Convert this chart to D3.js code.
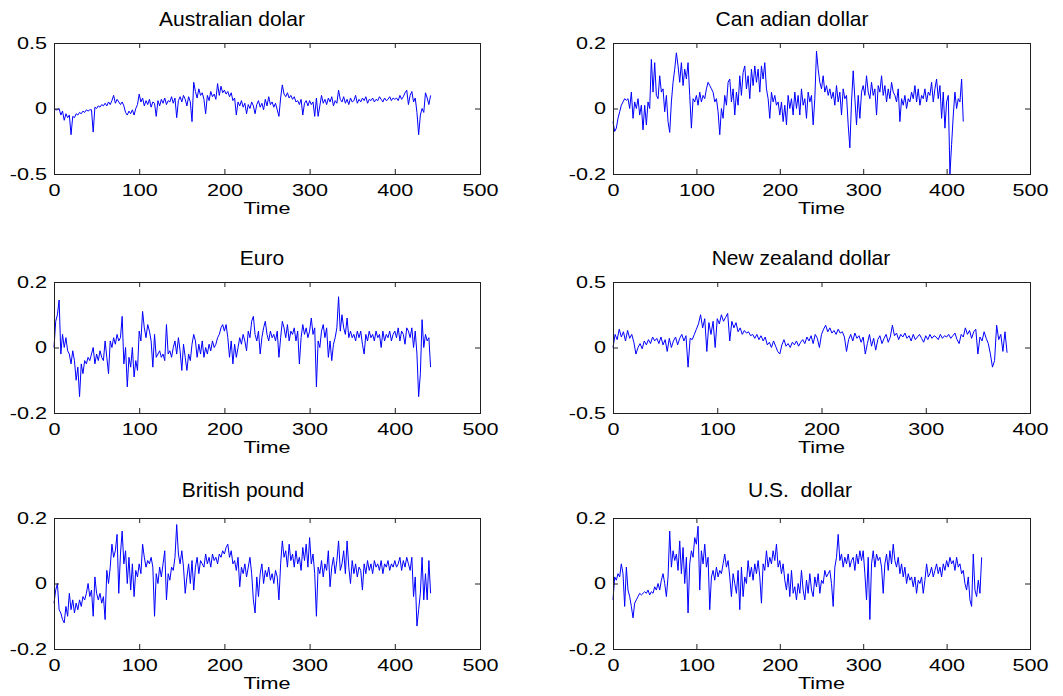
<!DOCTYPE html>
<html>
<head>
<meta charset="utf-8">
<script src="https://cdn.jsdelivr.net/npm/d3@7"></script>
<style>
  html, body { margin: 0; padding: 0; background: #ffffff; }
  svg { display: block; }
  .title { white-space: pre; }
</style>
</head>
<body>
<svg id="chart" width="1063" height="696"></svg>
<script>
// ---------- data (one value every 2 time units) ----------
const timeStep = 2;

const titles = ["Australian dolar", "Can adian dollar", "Euro", "New zealand dollar", "British pound", "U.S.  dollar"];
const xAxisLabel = "Time";
const xTicks500 = [0, 100, 200, 300, 400, 500];
const xTicks400 = [0, 100, 200, 300, 400];
const yTicksWide = [-0.5, 0, 0.5];
const yTicksNarrow = [-0.2, 0, 0.2];

const audValues = [
  0, -0.01, -0.01, 0.0, -0.05, -0.02, -0.09, -0.04, -0.07, -0.05,
  -0.2, -0.06, -0.07, -0.04, -0.05, -0.03, -0.04, -0.02, -0.03, -0.01,
  -0.02, -0.01, -0.01, -0.18, 0.01, 0.0, 0.02, 0.01, 0.03, 0.02,
  0.04, 0.02, 0.05, 0.03, 0.06, 0.1, 0.04, 0.07, 0.05, 0.03,
  0.05, 0.02, -0.03, -0.05, -0.02, -0.04, -0.01, -0.05, 0.0, 0.03,
  0.11, 0.05, 0.08, 0.02, 0.06, 0.03, 0.07, 0.01, 0.05, 0.04,
  -0.06, 0.06, 0.02, 0.07, 0.04, 0.08, 0.03, 0.06, 0.05, 0.09,
  0.04, 0.08, -0.07, 0.06, 0.09, 0.05, 0.1, 0.07, 0.02, 0.09,
  0.05, -0.1, 0.2, 0.13, 0.08, 0.15, 0.1, 0.12, 0.07, -0.04,
  0.1, 0.06, 0.13, 0.09, 0.11, 0.07, 0.19, 0.1, 0.17, 0.12,
  0.14, 0.11, 0.13, 0.09, 0.12, 0.06, 0.08, -0.05, 0.05, 0.02,
  0.06, 0.01, 0.04, -0.04, 0.03, 0.0, 0.05, 0.02, -0.04, 0.03,
  0.06, 0.01, 0.04, -0.01, 0.07, 0.02, 0.09, 0.03, 0.05, 0.01,
  0.04, -0.01, -0.06, 0.08, 0.18, 0.11, 0.09, 0.12, 0.08, 0.1,
  0.07, 0.09, 0.05, 0.06, 0.03, 0.07, -0.05, 0.04, 0.06, 0.02,
  0.06, 0.03, 0.05, -0.06, 0.08, -0.06, 0.02, 0.1, 0.04, 0.07,
  0.03, 0.08, 0.05, 0.09, 0.02, 0.06, 0.04, 0.14, 0.07, 0.05,
  0.09, 0.04, 0.07, 0.03, 0.08, 0.05, 0.06, 0.1, 0.04, 0.07,
  0.05, 0.08, 0.06, 0.09, 0.04, 0.07, 0.06, 0.08, 0.05, 0.07,
  0.06, 0.09, 0.07, 0.05, 0.08, 0.06, 0.07, 0.09, 0.06, 0.08,
  0.07, 0.08, 0.06, 0.1, 0.07, 0.09, 0.12, 0.14, 0.03, 0.1,
  0.13, 0.05, 0.08, -0.03, -0.2, -0.05, 0.0, -0.03, 0.12, 0.08,
  0.03, 0.1
];

const cadValues = [
  -0.04, -0.07, -0.06, -0.03, -0.01, 0.01, 0.02, 0.03, 0.025, 0.03,
  0.0, 0.05, -0.03, 0.02, 0.0, 0.03, -0.02, 0.01, -0.065, 0.01,
  -0.05, 0.02, 0.0, 0.15, 0.05, 0.14, 0.04, 0.03, 0.1, 0.05,
  0.06, -0.01, 0.04, -0.04, -0.073, 0.02, 0.08, 0.12, 0.17, 0.13,
  0.08, 0.14, 0.07, 0.12, 0.09, 0.14, 0.04, -0.06, 0.03, 0.02,
  0.04, 0.01, 0.05, 0.02, 0.04, 0.03, 0.06, 0.08, 0.07, 0.06,
  0.05, 0.02, 0.03, -0.01, -0.08, 0.0, -0.03, 0.04, 0.01, 0.08,
  0.09, 0.02, 0.06, -0.02, 0.05, 0.01, 0.1, 0.04, 0.11, 0.13,
  0.06, 0.1, 0.03, 0.12, 0.07, 0.13, 0.08, 0.12, 0.05, 0.13,
  0.09, 0.14, 0.06, 0.03, -0.03, 0.05, 0.02, 0.04, 0.01, 0.02,
  -0.02, 0.02, -0.04, 0.01, -0.05, 0.04, 0.0, 0.03, -0.02, 0.05,
  0.0, 0.04, -0.02, 0.06, 0.01, 0.03, -0.03, 0.05, 0.02, 0.04,
  -0.05, 0.03, 0.175, 0.12, 0.08, 0.06, 0.1, 0.05, 0.07, 0.04,
  0.06, 0.03, 0.05, 0.01, 0.07, 0.02, 0.05, -0.02, 0.06, 0.03,
  0.04, -0.05, -0.12, 0.02, 0.115, 0.03, -0.05, 0.04, -0.03, 0.05,
  0.07, 0.04, 0.1, 0.05, 0.03, 0.08, 0.04, 0.06, -0.02, 0.07,
  0.05, 0.1, 0.04, 0.07, 0.02, 0.06, 0.03, 0.08, 0.05, 0.04,
  0.02, 0.06, -0.04, 0.03, 0.01, 0.04, 0.0, 0.03, 0.02, 0.05,
  0.03, 0.07, 0.02, 0.06, 0.01, 0.04, 0.03, 0.06, 0.02, 0.05,
  0.04, 0.08, 0.02, 0.06, 0.09, 0.03, 0.07, -0.03, 0.05, -0.06,
  0.02, 0.04, -0.2, -0.11, -0.02, 0.05, 0.0, 0.03, 0.02, 0.09,
  -0.04
];

const eurValues = [
  0.0, 0.08, 0.1, 0.145, -0.02, 0.04, 0.0, 0.03, -0.01, -0.02,
  -0.05, -0.01, -0.04, -0.1, -0.06, -0.15, -0.05, -0.08, -0.04, -0.05,
  -0.03, -0.04, -0.02, 0.0, -0.05, -0.02, -0.04, -0.01, -0.03, -0.04,
  0.02, -0.03, -0.08, 0.02, 0.0, 0.03, 0.01, 0.04, 0.02, 0.03,
  0.095, -0.05, 0.0, -0.12, -0.03, -0.06, 0.0, -0.09, -0.04, -0.07,
  0.05, 0.02, 0.11, 0.06, 0.03, 0.07, 0.05, 0.02, -0.06, 0.04,
  -0.03, -0.02, -0.01, -0.03, -0.02, -0.04, 0.07, -0.02, -0.01, -0.03,
  0.0, 0.02, -0.02, 0.03, -0.01, -0.07, 0.01, -0.03, -0.07, -0.02,
  -0.04, 0.01, 0.04, 0.02, -0.03, 0.01, -0.02, 0.02, -0.03, 0.0,
  -0.02, 0.01, -0.01, 0.02, 0.0, 0.01, 0.03, 0.04, 0.06, 0.07,
  0.05, 0.07, 0.03, -0.03, 0.02, -0.05, 0.01, -0.03, 0.0, 0.03,
  0.01, 0.04, 0.02, -0.01, 0.05, 0.03, 0.08, 0.095, 0.04, 0.02,
  0.05, -0.02, 0.03, 0.06, 0.08, 0.04, 0.02, 0.05, 0.03, 0.04,
  0.02, 0.05, -0.03, 0.03, 0.08, 0.06, 0.03, 0.07, 0.02, 0.05,
  0.04, 0.06, 0.02, 0.05, -0.05, 0.03, 0.07, 0.04, 0.06, 0.03,
  0.05, 0.09, 0.04, 0.06, -0.12, 0.02, 0.0, 0.05, 0.07, 0.03,
  0.06, -0.03, 0.02, -0.04, 0.01, 0.03, 0.06, 0.155, 0.05, 0.1,
  0.06, 0.04, 0.09, 0.03, 0.05, 0.03, 0.04, 0.02, 0.05, 0.03,
  0.05, 0.01, -0.02, 0.04, 0.02, 0.05, 0.03, 0.04, 0.02, 0.05,
  0.03, 0.04, 0.0, 0.05, 0.02, 0.04, 0.03, 0.05, 0.02, 0.04,
  0.05, 0.03, 0.06, 0.02, 0.05, 0.04, 0.01, 0.06, 0.05, 0.03,
  0.06, 0.0, 0.05, -0.02, -0.15, -0.08, 0.085, 0.0, 0.04, 0.02,
  0.03, -0.06
];

const nzdValues = [
  0.0, 0.1, 0.06, 0.14, 0.08, 0.12, 0.05, 0.13, 0.07, 0.1,
  0.04, -0.05, 0.0, 0.03, -0.01, 0.05, 0.02, 0.06, 0.03, 0.08,
  0.05, 0.07, 0.03, 0.08, 0.02, 0.06, -0.03, 0.07, 0.0, 0.05,
  0.08, 0.02, 0.07, 0.1, 0.05, 0.09, -0.15, 0.07, 0.06, 0.1,
  0.14, 0.18, 0.25, 0.15, 0.22, -0.03, 0.19, 0.1, 0.2, 0.0,
  0.22, 0.18, 0.25, 0.2, 0.23, 0.26, 0.05, 0.2, 0.15, 0.19,
  0.12, 0.15, 0.1, 0.13, 0.11, 0.12, 0.09, 0.1, 0.07, 0.1,
  0.06, 0.09, 0.05, 0.08, 0.02, 0.04, 0.0, 0.05, 0.01, -0.03,
  -0.05, 0.02, 0.06, 0.01, 0.03, 0.0, 0.04, 0.02, 0.05, 0.01,
  0.04, 0.06, 0.03, 0.08, 0.05, 0.09, 0.03, 0.1, 0.07, 0.0,
  0.1, 0.14, 0.17, 0.12, 0.15, 0.11, 0.13, 0.1, 0.14, 0.11,
  0.12, 0.08, -0.03, 0.06, 0.1, 0.05, 0.11, 0.07, 0.09, 0.04,
  0.08, -0.05, 0.03, 0.1, 0.01, 0.07, -0.02, 0.06, 0.09, 0.03,
  0.07, 0.1, 0.04, 0.08, 0.17, 0.09, 0.11, 0.06, 0.1, 0.08,
  0.11, 0.07, 0.09, 0.05, 0.1, 0.06, 0.08, 0.1, 0.07, 0.04,
  0.09, 0.06, 0.1, 0.07, 0.09, 0.08, 0.06, 0.1, 0.07, 0.09,
  0.08, 0.1, 0.07, 0.09, 0.11, 0.06, 0.03, 0.1, 0.08, 0.15,
  0.1, 0.13, 0.07, 0.12, 0.14, -0.05, 0.08, 0.05, 0.12, 0.07,
  0.03, -0.05, -0.15, -0.1, 0.17, 0.06, 0.1, -0.03, 0.12, -0.04
];

const gbpValues = [
  -0.06, -0.02, 0.0, -0.08, -0.09, -0.11, -0.12, -0.07, -0.1, -0.03,
  -0.08, -0.05, -0.09, -0.06, -0.08, -0.05, -0.07, -0.04, -0.05, -0.03,
  0.0, -0.04, -0.02, -0.1, 0.02, -0.03, -0.05, -0.03, -0.06, -0.04,
  -0.11, 0.04, 0.0, 0.05, 0.12, 0.08, 0.1, 0.15, -0.03, 0.09,
  0.16, 0.06, 0.1, 0.0, 0.08, -0.02, 0.06, -0.04, 0.04, 0.02,
  0.06, 0.03, 0.12, 0.08, 0.05, 0.07, 0.06, 0.08, 0.05, -0.1,
  0.03, 0.0, 0.05, 0.02, 0.06, 0.1, -0.05, 0.03, 0.01, 0.05,
  0.04, 0.08, 0.18, 0.09, 0.06, 0.1, 0.05, -0.03, 0.02, 0.06,
  0.0, 0.07, -0.02, 0.05, 0.08, 0.03, 0.07, 0.06, 0.05, 0.09,
  0.06, 0.08, 0.05, 0.09, 0.07, 0.08, 0.06, 0.09, 0.08, 0.1,
  0.09, 0.11, 0.12, 0.08, 0.1, 0.06, 0.07, 0.04, 0.08, -0.01,
  0.05, 0.03, 0.06, 0.02, 0.05, 0.08, 0.03, -0.05, -0.09, 0.02,
  -0.04, 0.03, 0.06, 0.0, 0.04, 0.02, 0.05, 0.01, 0.03, 0.0,
  0.04, 0.02, -0.05, 0.06, 0.13, 0.08, 0.1, 0.05, 0.12, 0.07,
  0.09, 0.05, 0.1, 0.06, 0.08, 0.04, 0.11, 0.07, 0.12, 0.05,
  0.14, 0.06, 0.09, 0.03, -0.1, 0.05, 0.03, 0.07, 0.02, 0.06,
  0.04, 0.1, -0.01, 0.05, 0.08, 0.03, 0.07, 0.13, 0.04, 0.06,
  0.1, 0.03, 0.13, 0.05, 0.0, 0.07, 0.03, 0.06, 0.02, 0.05,
  0.04, -0.02, 0.06, 0.03, 0.07, 0.04, 0.06, 0.03, 0.07, 0.05,
  0.06, 0.04, 0.07, 0.03, 0.06, 0.05, 0.07, 0.04, 0.06, 0.05,
  0.07, 0.05, 0.06, 0.08, 0.04, 0.07, 0.05, 0.08, 0.06, 0.04,
  0.08, -0.04, 0.02, -0.13, -0.08, -0.03, 0.08, -0.05, 0.03, -0.05,
  0.07, -0.03
];

const usdValues = [
  -0.05, 0.02, 0.01, 0.03, 0.02, 0.06, 0.03, -0.07, 0.05, -0.02,
  -0.04, -0.07, -0.105, -0.06, -0.05, -0.04, -0.03, -0.035, -0.03, -0.025,
  -0.03, -0.02, -0.035, -0.025, -0.03, -0.01, -0.02, 0.0, -0.02, 0.01,
  0.03, 0.0, -0.04, 0.02, 0.16, 0.05, 0.1, 0.07, 0.09, 0.04,
  0.13, 0.03, 0.11, 0.0, 0.08, -0.09, 0.06, 0.1, 0.08, 0.14,
  0.12, 0.175, -0.02, 0.1, 0.06, 0.12, 0.05, 0.08, -0.08, 0.02,
  0.04, 0.01, 0.05, 0.02, 0.04, 0.03, 0.06, 0.09, 0.05, 0.07,
  0.02, -0.04, 0.03, 0.0, -0.03, 0.04, -0.08, 0.05, -0.04, 0.02,
  0.0, 0.07, 0.02, 0.05, 0.01, 0.06, 0.03, 0.07, 0.02, -0.06,
  0.06, 0.04, 0.1, 0.05, 0.08, 0.06, 0.1, 0.07, 0.12, 0.05,
  0.07, 0.03, 0.06, 0.01, -0.02, 0.03, -0.04, 0.04, -0.03, -0.01,
  -0.05, 0.0, -0.03, 0.04, -0.02, -0.05, 0.01, -0.03, 0.03, -0.02,
  -0.04, 0.02, -0.01, 0.03, -0.03, 0.01, 0.0, 0.04, 0.02, 0.03,
  0.04, 0.0, -0.07, 0.05, 0.08, 0.15, 0.07, 0.09, 0.05, 0.08,
  0.06, 0.09, 0.05, 0.07, 0.08, 0.04, 0.09, 0.06, 0.1, 0.07,
  0.1, 0.03, -0.05, 0.08, -0.11, 0.06, 0.1, 0.05, 0.09, 0.07,
  0.08, 0.05, -0.03, 0.06, 0.09, 0.04, 0.1, 0.06, 0.12, 0.07,
  0.05, 0.08, 0.03, 0.06, 0.02, 0.05, 0.0, 0.03, 0.01, 0.02,
  -0.01, 0.02, -0.03, 0.01, 0.0, 0.02, -0.03, 0.01, 0.06, 0.02,
  0.03, 0.05, 0.02, 0.04, 0.06, 0.03, 0.05, 0.02, 0.06, 0.04,
  0.07, 0.05, 0.08, 0.06, 0.07, 0.04, 0.08, 0.05, 0.06, 0.03,
  0.04, 0.0, -0.02, 0.02, -0.05, -0.07, 0.09, -0.02, -0.04, 0.01,
  -0.03, 0.08
];

// ---------- layout (pixels) ----------
const leftCol = { x0: 54, x1: 480 };
const rightCol = { x0: 613, x1: 1030 };
const rows = [ { top: 43, bottom: 174 }, { top: 282, bottom: 413 }, { top: 518, bottom: 649 } ];

const panels = [
  { values: audValues, title: titles[0], col: leftCol,  row: rows[0], xMax: 500, xTicks: xTicks500, yMax: 0.5, yTicks: yTicksWide,   titleX: 232, titleY: 26 },
  { values: cadValues, title: titles[1], col: rightCol, row: rows[0], xMax: 500, xTicks: xTicks500, yMax: 0.2, yTicks: yTicksNarrow, titleX: 792, titleY: 26 },
  { values: eurValues, title: titles[2], col: leftCol,  row: rows[1], xMax: 500, xTicks: xTicks500, yMax: 0.2, yTicks: yTicksNarrow, titleX: 262, titleY: 265 },
  { values: nzdValues, title: titles[3], col: rightCol, row: rows[1], xMax: 400, xTicks: xTicks400, yMax: 0.5, yTicks: yTicksWide,   titleX: 801, titleY: 265 },
  { values: gbpValues, title: titles[4], col: leftCol,  row: rows[2], xMax: 500, xTicks: xTicks500, yMax: 0.2, yTicks: yTicksNarrow, titleX: 243, titleY: 497 },
  { values: usdValues, title: titles[5], col: rightCol, row: rows[2], xMax: 500, xTicks: xTicks500, yMax: 0.2, yTicks: yTicksNarrow, titleX: 800, titleY: 497 }
];

const FONT = "'Liberation Sans', Arial, Helvetica, sans-serif";
const TICK_FONT_SIZE = 16;
const STRETCH = 1.35;
const TICK_LEN = 5;
const LINE_COLOR = "#0000ff";
const BOX_COLOR = "#202020";

const svg = d3.select("#chart");
svg.append("rect").attr("width", 1063).attr("height", 696).attr("fill", "#ffffff");

panels.forEach(p => {
  const w = p.col.x1 - p.col.x0;
  const h = p.row.bottom - p.row.top;
  const x = d3.scaleLinear().domain([0, p.xMax]).range([0, w]);
  const y = d3.scaleLinear().domain([-p.yMax, p.yMax]).range([h, 0]);
  const fmt = d => String(d);

  const g = svg.append("g").attr("transform", `translate(${p.col.x0},${p.row.top})`);

  // series line
  const line = d3.line()
    .x((d, i) => x(i * timeStep))
    .y(d => y(d));
  g.append("path")
    .datum(p.values)
    .attr("fill", "none")
    .attr("stroke", LINE_COLOR)
    .attr("stroke-width", 1)
    .attr("stroke-linejoin", "miter")
    .attr("d", line);

  // bottom axis (labels)
  const bottom = g.append("g").attr("transform", `translate(0,${h})`)
    .call(d3.axisBottom(x).tickValues(p.xTicks).tickFormat(fmt).tickSizeInner(-TICK_LEN).tickSizeOuter(0).tickPadding(10.5));
  // left axis (labels)
  const left = g.append("g")
    .call(d3.axisLeft(y).tickValues(p.yTicks).tickFormat(fmt).tickSizeInner(-TICK_LEN).tickSizeOuter(0).tickPadding(7));
  // top & right: ticks only
  const top = g.append("g")
    .call(d3.axisTop(x).tickValues(p.xTicks).tickFormat("").tickSizeInner(-TICK_LEN).tickSizeOuter(0));
  const right = g.append("g").attr("transform", `translate(${w},0)`)
    .call(d3.axisRight(y).tickValues(p.yTicks).tickFormat("").tickSizeInner(-TICK_LEN).tickSizeOuter(0));

  [bottom, left, top, right].forEach(a => {
    a.select(".domain").remove();
    a.selectAll(".tick line").attr("stroke", BOX_COLOR).attr("stroke-width", 1);
    a.selectAll(".tick text")
      .attr("fill", "#000")
      .style("font-family", FONT)
      .style("font-size", TICK_FONT_SIZE + "px");
  });
  bottom.selectAll(".tick text").attr("transform", `scale(${STRETCH},1)`);
  left.selectAll(".tick text")
    .attr("x", -7 / STRETCH)
    .attr("transform", `scale(${STRETCH},1)`);

  // box
  g.append("rect")
    .attr("x", 0.5).attr("y", 0.5)
    .attr("width", w).attr("height", h)
    .attr("fill", "none")
    .attr("stroke", BOX_COLOR)
    .attr("stroke-width", 1);

  // x axis label
  g.append("text")
    .attr("transform", `translate(${w / 2},${h + 40}) scale(${STRETCH},1)`)
    .attr("text-anchor", "middle")
    .style("font-family", FONT)
    .style("font-size", TICK_FONT_SIZE + "px")
    .attr("fill", "#000")
    .text(xAxisLabel);

  // title
  svg.append("text")
    .attr("class", "title")
    .attr("x", p.titleX)
    .attr("y", p.titleY)
    .attr("text-anchor", "middle")
    .style("font-family", FONT)
    .style("font-size", "21px")
    .attr("fill", "#000")
    .text(p.title);
});
</script>
</body>
</html>
